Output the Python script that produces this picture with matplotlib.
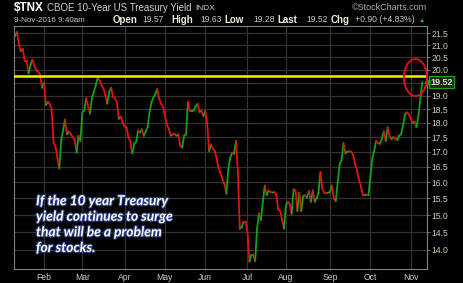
import numpy as np
import matplotlib
matplotlib.use('Agg')
import matplotlib.pyplot as plt
from matplotlib.collections import LineCollection
from matplotlib.patches import Ellipse
from matplotlib.ticker import FixedLocator, NullLocator, FixedFormatter
import matplotlib.transforms as mtransforms
import matplotlib.patheffects as pe

# $TNX daily closes (yield x 10), trading days from 8-Jan-2016 to 9-Nov-2016
tnx = [21.38, 21.55, 21.0, 20.75, 20.85, 20.35, 20.35, 19.85, 20.2, 20.4,
       20.15, 19.98, 19.92, 19.82, 19.3, 19.5, 18.65, 18.77, 18.7, 18.5,
       17.3, 17.2, 16.8, 16.45, 17.4, 17.75, 18.12, 17.6, 17.7, 17.6,
       17.5, 17.4, 16.97, 17.55, 17.37, 18.38, 18.45, 18.9, 18.6, 18.33,
       18.93, 19.15, 19.4, 19.7, 19.57, 19.4, 19.27, 19.0, 18.7, 19.15,
       19.3, 18.95, 18.9, 18.75, 18.15, 18.23, 18.0, 17.88, 17.85, 17.5,
       17.35, 16.95, 17.27, 17.33, 17.73, 17.66, 17.78, 17.55, 17.7, 17.85,
       18.4, 18.75, 18.93, 19.05, 19.25, 18.9, 18.7, 18.6, 18.25, 17.95,
       17.8, 17.55, 17.6, 17.6, 17.55, 17.6, 17.2, 17.15, 17.55, 17.6,
       18.77, 18.43, 18.43, 18.45, 18.6, 18.7, 18.4, 18.43, 18.25, 18.43,
       18.0, 17.03, 17.25, 17.1, 17.03, 16.75, 16.45, 16.3, 16.1, 15.95,
       15.65, 16.4, 16.8, 16.97, 16.93, 17.37, 16.33, 14.6, 14.65, 14.8,
       14.8, 14.5, 13.68, 13.85, 13.87, 13.69, 14.6, 15.05, 14.85, 15.4,
       15.9, 15.6, 15.75, 15.7, 15.68, 15.7, 15.63, 15.17, 15.12, 14.88,
       14.6, 15.28, 15.4, 15.33, 15.03, 15.78, 15.75, 15.12, 15.68, 15.12,
       15.57, 15.6, 15.52, 15.73, 15.4, 15.75, 15.4, 15.5, 15.68, 16.33,
       15.8, 15.68, 15.68, 15.68, 15.7, 15.9, 15.5, 15.42, 16.0, 16.6,
       16.72, 17.3, 16.95, 17.0, 17.02, 17.0, 16.9, 16.6, 16.4, 16.1,
       15.9, 15.62, 15.6, 15.62, 15.6, 16.17, 16.77, 17.03, 17.37, 17.3,
       17.27, 17.45, 17.7, 17.37, 17.85, 17.55, 17.44, 17.5, 17.44, 17.4,
       17.55, 17.6, 17.9, 18.3, 18.38, 18.33, 18.15, 18.0, 18.05, 17.85,
       18.25, 18.85, 19.52]

months = ['Feb', 'Mar', 'Apr', 'May', 'Jun', 'Jul', 'Aug', 'Sep', 'Oct', 'Nov']
month_start = [15, 35, 57, 78, 99, 121, 141, 164, 185, 206]  # trading-day index
yticks = [14.0, 14.5, 15.0, 15.5, 16.0, 16.5, 17.0, 17.5, 18.0, 18.5,
          19.0, 19.5, 20.0, 20.5, 21.0, 21.5]
resistance = 19.75
last = 19.52

W, H = 463, 283
fig = plt.figure(figsize=(W / 100, H / 100), dpi=100, facecolor='black')
ax = fig.add_axes([14 / W, 1 - 269 / H, 413 / W, 243 / H])
ax.set_facecolor('black')
ax.set_yscale('log')

x = np.arange(len(tnx))
y = np.array(tnx)
pts = np.column_stack([x, y]).reshape(-1, 1, 2)
segs = np.concatenate([pts[:-1], pts[1:]], axis=1)
cols = ['#15a015' if y[i + 1] > y[i] else '#e01212' for i in range(len(y) - 1)]
ax.add_collection(LineCollection(segs, colors=cols, linewidths=1.3, zorder=3,
                                 capstyle='round', joinstyle='round'))

ax.set_xlim(-0.6, 214.5)
ax.set_ylim(13.48, 21.81)

# grid
for v in yticks:
    ax.axhline(v, color='#333333', lw=0.9, zorder=1)
for m in month_start:
    ax.axvline(m, color='#333333', lw=0.9, zorder=1)

ax.axhline(resistance, color='#f2f200', lw=1.8, zorder=4)

# axes styling
for s in ax.spines.values():
    s.set_color('#808080')
    s.set_linewidth(0.8)
ax.yaxis.tick_right()
ax.yaxis.set_major_locator(FixedLocator(yticks))
ax.yaxis.set_minor_locator(NullLocator())
ax.yaxis.set_major_formatter(FixedFormatter(['' if v == 19.5 else '%.1f' % v for v in yticks]))
ax.set_xticks(month_start)
ax.set_xticklabels(months)
ax.tick_params(axis='y', colors='#808080', labelcolor='#d2ccb4', labelsize=6.2,
               length=2, width=0.6, pad=1.5)
ax.tick_params(axis='x', colors='#808080', labelcolor='#d2ccb4', labelsize=6.2,
               length=0, pad=3)
for t in ax.get_xticklabels() + ax.get_yticklabels():
    t.set_family('Liberation Sans')

# last value box
tr = mtransforms.blended_transform_factory(ax.transAxes, ax.transData)
ax.text(1.008, last, '19.52', transform=tr, va='center', ha='left',
        fontsize=6.5, fontweight='bold', color='#e0dcc4', family='Liberation Sans',
        bbox=dict(boxstyle='square,pad=0.18', fc='#142814', ec='#1fa01f', lw=0.9),
        zorder=6, clip_on=False)
ax.plot([1.0], [last], transform=tr, marker='<', ms=3.5, color='#1fa01f',
        clip_on=False, zorder=6)

# red circle
ax.add_patch(Ellipse((0.972, 0.788), 0.056, 0.152, transform=ax.transAxes,
                     fill=False, ec='#e01010', lw=1.4, zorder=7, clip_on=False))

# annotation text
note = 'If the 10 year Treasury\nyield continues to surge\nthat will be a problem\nfor stocks.'
ax.text(22 / 413, 0.183, note, transform=ax.transAxes,
        ha='left', va='center', color='white', fontsize=9.9, fontweight='bold',
        style='italic', family='Lato', linespacing=1.36, zorder=5,
        path_effects=[pe.withStroke(linewidth=1.6, foreground='#2a3a80')])

# header
def ftext(px, py, s, **kw):
    fig.text(px / W, 1 - py / H, s, va='center', ha='left',
             family='Liberation Sans', **kw)

ftext(14, 8, r'\$TNX', color='white', fontsize=8.5, fontweight='bold')
ftext(47, 8, 'CBOE 10-Year US Treasury Yield', color='#d0d0d0', fontsize=7)
ftext(195, 8, 'INDX', color='#d0d0d0', fontsize=6)
fig.text(427 / W, 1 - 8 / H, '\u00a9StockCharts.com', va='center', ha='right',
         family='Liberation Sans', color='#b0b0b0', fontsize=6.5)

ftext(14, 20, '9-Nov-2016 9:40am', color='#c8c8c8', fontsize=5.8)
for px, lab, val in [(113, 'Open', '19.57'), (171, 'High', '19.63'),
                     (224, 'Low', '19.28'), (277, 'Last', '19.52')]:
    ftext(px, 20, lab, color='#f0ecd8', fontsize=7, fontweight='bold')
    ftext(px + 29, 20, val, color='#c8c8c8', fontsize=6.2)
ftext(331, 20, 'Chg', color='#f0ecd8', fontsize=7, fontweight='bold')
ftext(355, 20, '+0.90 (+4.83%)', color='#c8c8c8', fontsize=6.2)
ftext(419, 20, '\u25b2', color='#20c020', fontsize=4.5)

fig.savefig('out.png', dpi=100, facecolor='black')
